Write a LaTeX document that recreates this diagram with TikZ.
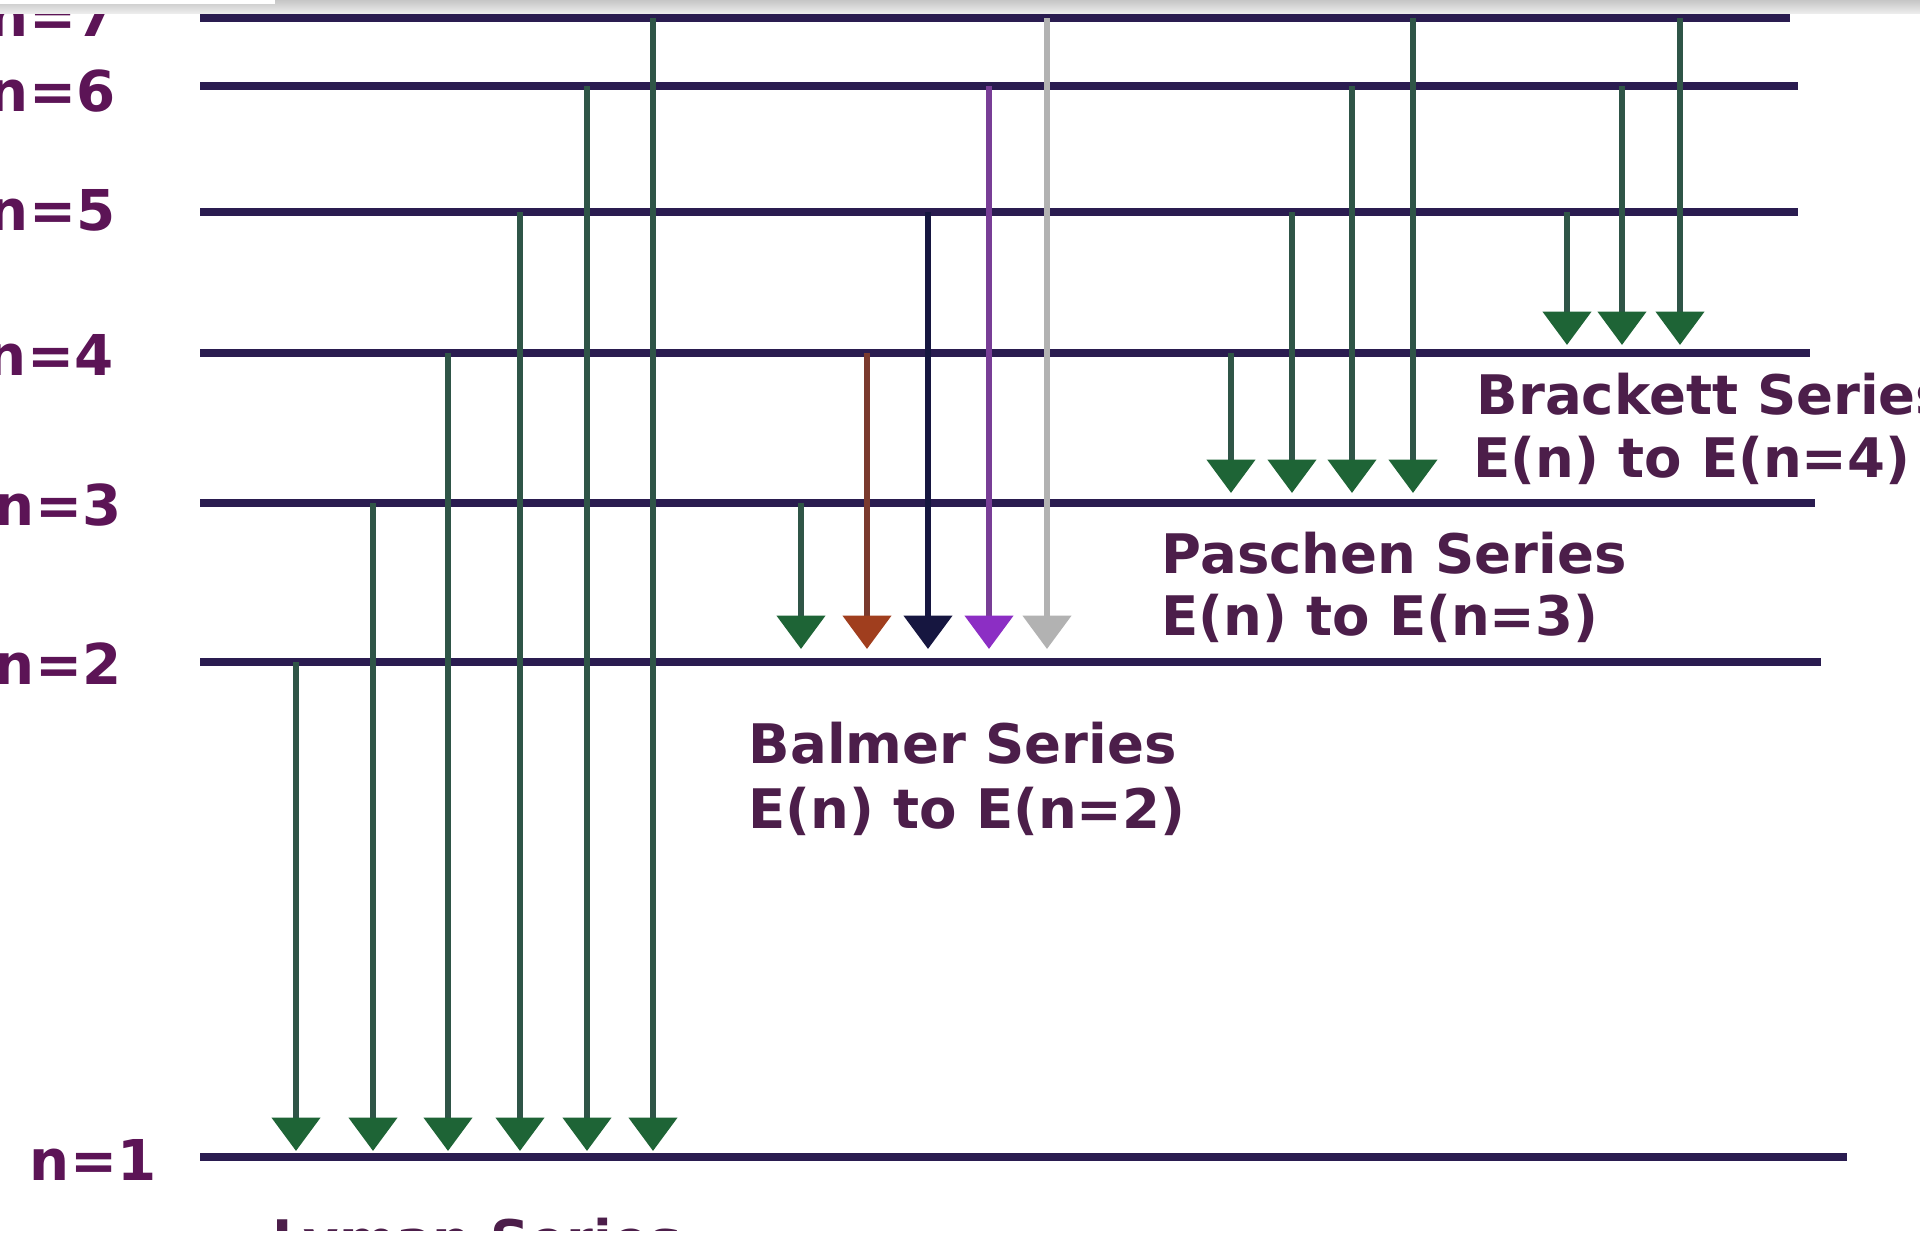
\documentclass[tikz,border=0pt]{standalone}
\usepackage{fontspec}
\setmainfont{DejaVu Sans}
\usepackage{tikz}
\usetikzlibrary{arrows.meta}
\definecolor{levelblue}{RGB}{42,28,80}
\definecolor{txtpurple}{RGB}{76,30,74}
\definecolor{lblpurple}{RGB}{92,20,86}
\definecolor{shaftgreen}{RGB}{47,85,71}
\definecolor{headgreen}{RGB}{30,100,54}
\definecolor{balbrown}{RGB}{122,58,46}
\definecolor{headbrown}{RGB}{160,62,30}
\definecolor{balnavy}{RGB}{22,22,64}
\definecolor{balpurple}{RGB}{120,62,150}
\definecolor{headpurple}{RGB}{140,46,196}
\definecolor{balgrey}{RGB}{178,178,178}
\tikzset{
  level/.style={draw=levelblue, line width=2pt},
  trans/.style 2 args={draw=#1, line width=1.8pt,
    -{Triangle[width=13.5pt,length=9.5pt,fill=#2,color=#2]}},
  nlbl/.style={text=lblpurple, font=\bfseries\fontsize{16}{18}\selectfont, inner sep=0pt},
  serieslbl/.style={text=txtpurple, font=\bfseries\fontsize{15.5}{19}\selectfont,
    inner sep=0pt, anchor=west}
}
\begin{document}
\begin{tikzpicture}[x=0.01cm, y=-0.01cm]
  \useasboundingbox (0,0) rectangle (1920,1239);
  \clip (0,0) rectangle (1920,1239);
  \fill[white] (0,0) rectangle (1920,1239);

  % energy levels
  \foreach \n/\y/\xe/\xl/\yl in {1/1157/1847/157/1160, 2/662/1821/122/664, 3/503/1815/122/505,
                             4/353/1810/114/355, 5/212/1798/116/210, 6/86/1798/116/91, 7/18/1790/116/16} {
    \coordinate (E\n) at (0,\y);
    \draw[level] (200,\y) -- (\xe,\y);
    \node[nlbl, anchor=east] (n\n) at (\xl,\yl) {n=\n};
  }
  \coordinate (tipLy) at (0,1151);
  \coordinate (tipBa) at (0,649);
  \coordinate (tipPa) at (0,493);
  \coordinate (tipBr) at (0,345);

  % Lyman series
  \foreach \x/\n in {296/2, 373/3, 448/4, 520/5, 587/6, 653/7} {
    \draw[trans={shaftgreen}{headgreen}] (\x,0 |- E\n) -- (\x,0 |- tipLy);
  }
  % Balmer series
  \foreach \x/\n/\c/\h in {801/3/shaftgreen/headgreen, 867/4/balbrown/headbrown,
                           928/5/balnavy/balnavy, 989/6/balpurple/headpurple,
                           1047/7/balgrey/balgrey} {
    \draw[trans={\c}{\h}] (\x,0 |- E\n) -- (\x,0 |- tipBa);
  }
  % Paschen series
  \foreach \x/\n in {1231/4, 1292/5, 1352/6, 1413/7} {
    \draw[trans={shaftgreen}{headgreen}] (\x,0 |- E\n) -- (\x,0 |- tipPa);
  }
  % Brackett series
  \foreach \x/\n in {1567/5, 1622/6, 1680/7} {
    \draw[trans={shaftgreen}{headgreen}] (\x,0 |- E\n) -- (\x,0 |- tipBr);
  }

  % series labels
  \node[serieslbl] (balmer) at (748,743) {Balmer Series};
  \node[serieslbl] (balmerE) at (748,811) {E(n) to E(n=2)};
  \node[serieslbl] (paschen) at (1161,553) {Paschen Series};
  \node[serieslbl] (paschenE) at (1161,618) {E(n) to E(n=3)};
  \node[serieslbl] (brackett) at (1476,394) {Brackett Series};
  \node[serieslbl] (brackettE) at (1473,460) {E(n) to E(n=4)};
  \node[serieslbl] (lyman) at (272,1245) {Lyman Series};

  % scanned edges
  \shade[top color=gray!45, bottom color=gray!15] (0,0) rectangle (1920,13);
  \fill[white] (0,0) rectangle (275,4);
  \fill[white] (0,1231) rectangle (1920,1239);
\end{tikzpicture}
\end{document}
